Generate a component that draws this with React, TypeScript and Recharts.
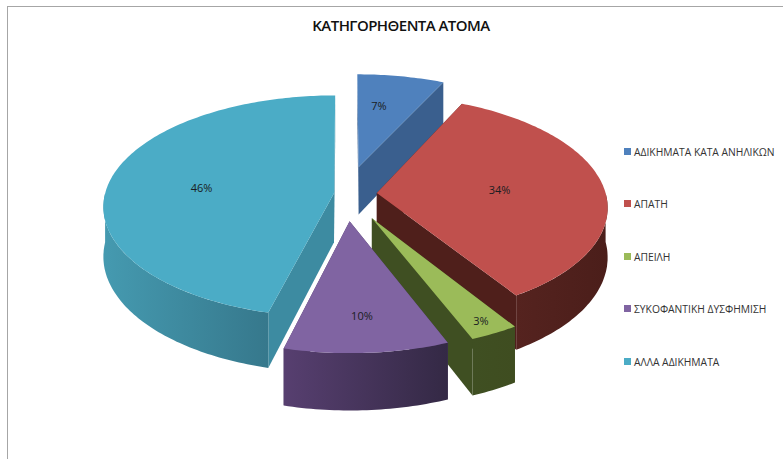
import { PieChart, Pie, Legend } from 'recharts';

const CATEGORIES = ['ΑΔΙΚΗΜΑΤΑ ΚΑΤΑ ΑΝΗΛΙΚΩΝ', 'ΑΠΑΤΗ', 'ΑΠΕΙΛΗ', 'ΣΥΚΟΦΑΝΤΙΚΗ ΔΥΣΦΗΜΙΣΗ', 'ΑΛΛΑ ΑΔΙΚΗΜΑΤΑ'];
const SHARES = [7, 34, 3, 10, 46];

// colours of the top, the cut faces and the rim (left and right end of the gradient)
const TOP_COLORS = ['#4F81BD', '#C0504D', '#9BBB59', '#8064A2', '#4BACC6'];
const CUT_COLORS = ['#3A5F8E', '#4F1F1B', '#3F4F22', '#4B3A63', '#3D8BA1'];
const RIM_LEFT = ['#3A5F8E', '#55231F', '#3F4F22', '#573F70', '#459AB0'];
const RIM_RIGHT = ['#3A5F8E', '#4B1E1A', '#3F4D20', '#342945', '#36788C'];

// how far each slice is pulled out, and where its label sits (fraction of the radius, degrees off the middle)
const EXPLODE = [0.26, 0.135, 0.243, 0.243, 0.053];
const LABEL_RADIUS = [0.652, 0.54, 0.9, 0.74, 0.585];
const LABEL_TURN = [-3.6, 0, 0, 0, -1.8];

const WIDTH = 783;
const HEIGHT = 459;
const CX = 346;
const CY = 194;
const RADIUS = 229;
const FLATTEN = 0.478; // squash of the ground plane
const PERSPECTIVE = 0.117;
const DEPTH = 49;

const tableData = CATEGORIES.map((name, i) => ({ name, value: SHARES[i], fill: TOP_COLORS[i], index: i }));

// clock angle in degrees (0 = up, clockwise) from the angle recharts hands over
const toClock = (angle: number) => 90 - angle;

// project a point of the unit pie (plus the slice offset) on to the screen
function project(cx: number, cy: number, r: number, u: number, v: number, lift = 0) {
    const w = 1 - PERSPECTIVE * v;
    return {
        x: cx + (r * u) / w,
        y: cy + (r * FLATTEN * v) / w + (lift * DEPTH) / w,
    };
}

function slicePoint(clock: number, radius: number, explode: number, mid: number) {
    const a = (clock * Math.PI) / 180;
    const m = (mid * Math.PI) / 180;
    return {
        u: radius * Math.sin(a) + explode * Math.sin(m),
        v: -radius * Math.cos(a) - explode * Math.cos(m),
    };
}

const toPath = (pts: Array<{ x: number; y: number }>) =>
    pts.map((p, i) => `${i === 0 ? 'M' : 'L'}${p.x.toFixed(1)},${p.y.toFixed(1)}`).join(' ') + ' Z';

function Slice3D(props: any) {
    const { cx, cy, outerRadius, startAngle, endAngle, index } = props;
    const from = toClock(startAngle);
    const to = toClock(endAngle);
    const mid = (from + to) / 2;
    const explode = EXPLODE[index];

    const at = (clock: number, radius: number, lift = 0) => {
        const { u, v } = slicePoint(clock, radius, explode, mid);
        return project(cx, cy, outerRadius, u, v, lift);
    };
    const arc = (a: number, b: number, lift: number) => {
        const pts = [];
        const steps = Math.max(2, Math.ceil(Math.abs(b - a)));
        for (let i = 0; i <= steps; i++) pts.push(at(a + ((b - a) * i) / steps, 1, lift));
        return pts;
    };

    const top = toPath([at(from, 0), ...arc(from, to, 0)]);
    const face = (clock: number) => toPath([at(clock, 0), at(clock, 1), at(clock, 1, 1), at(clock, 0, 1)]);

    const rimFrom = Math.max(from, 90);
    const rimTo = Math.min(to, 270);
    const hasRim = rimTo > rimFrom;
    const rim = hasRim ? toPath([...arc(rimFrom, rimTo, 0), ...arc(rimFrom, rimTo, 1).reverse()]) : '';
    const gradientId = `rim-${index}`;

    return (
        <g>
            <defs>
                <linearGradient id={gradientId} x1="0" y1="0" x2="1" y2="0">
                    <stop offset="0%" stopColor={RIM_LEFT[index]} />
                    <stop offset="100%" stopColor={RIM_RIGHT[index]} />
                </linearGradient>
            </defs>
            <path d={face(from)} fill={CUT_COLORS[index]} />
            <path d={face(to)} fill={CUT_COLORS[index]} />
            {hasRim && <path d={rim} fill={`url(#${gradientId})`} />}
            <path d={top} fill={TOP_COLORS[index]} />
        </g>
    );
}

function renderLabel(props: any) {
    const { cx, cy, outerRadius, midAngle, index, percent } = props;
    const mid = toClock(midAngle);
    const { u, v } = slicePoint(mid + LABEL_TURN[index], LABEL_RADIUS[index], EXPLODE[index], mid);
    const p = project(cx, cy, outerRadius, u, v);
    return (
        <text x={p.x} y={p.y} textAnchor="middle" dominantBaseline="central" fontSize={11} fontFamily="Open Sans" fill="#1a1d22">
            {`${Math.round(percent * 100)}%`}
        </text>
    );
}

function renderLegend(props: any) {
    return (
        <div>
            {props.payload.map((entry: any) => (
                <div key={entry.value} style={{ height: 52.4, display: 'flex', alignItems: 'flex-start', lineHeight: '14px', whiteSpace: 'nowrap' }}>
                    <span style={{ width: 7, height: 7, background: entry.color, marginTop: 3, marginRight: 3, flex: 'none' }} />
                    <span>{entry.value}</span>
                </div>
            ))}
        </div>
    );
}

export default function App() {
    return (
        <div style={{ position: 'fixed', left: 0, top: 0, width: WIDTH, height: HEIGHT, background: '#fff', overflow: 'hidden' }}>
            <div style={{ position: 'absolute', left: 7, top: 6, right: 0, bottom: 0, borderLeft: '1px solid #a6a6a6', borderTop: '1px solid #a6a6a6' }} />
            <div style={{ position: 'absolute', left: 0, width: 802, top: 15, textAlign: 'center', fontFamily: 'Open Sans', fontWeight: 600, fontSize: 15, letterSpacing: -0.55, lineHeight: '20px', color: '#111' }}>
                ΚΑΤΗΓΟΡΗΘΕΝΤΑ ΑΤΟΜΑ
            </div>
            <PieChart width={WIDTH} height={HEIGHT} margin={{ top: 0, right: 0, bottom: 0, left: 0 }} style={{ position: 'absolute', left: 0, top: 0 }}>
                <Pie
                    data={tableData}
                    dataKey="value"
                    nameKey="name"
                    cx={CX}
                    cy={CY}
                    outerRadius={RADIUS}
                    startAngle={90}
                    endAngle={-270}
                    paddingAngle={0}
                    stroke="none"
                    shape={Slice3D}
                    label={renderLabel}
                    labelLine={false}
                    isAnimationActive={false}
                />
                <Legend
                    layout="vertical"
                    align="right"
                    verticalAlign="top"
                    itemSorter={null}
                    content={renderLegend}
                    wrapperStyle={{ left: 624, top: 145, width: 159, fontFamily: 'Open Sans', fontSize: 10.3, color: '#333' }}
                />
            </PieChart>
        </div>
    );
}
